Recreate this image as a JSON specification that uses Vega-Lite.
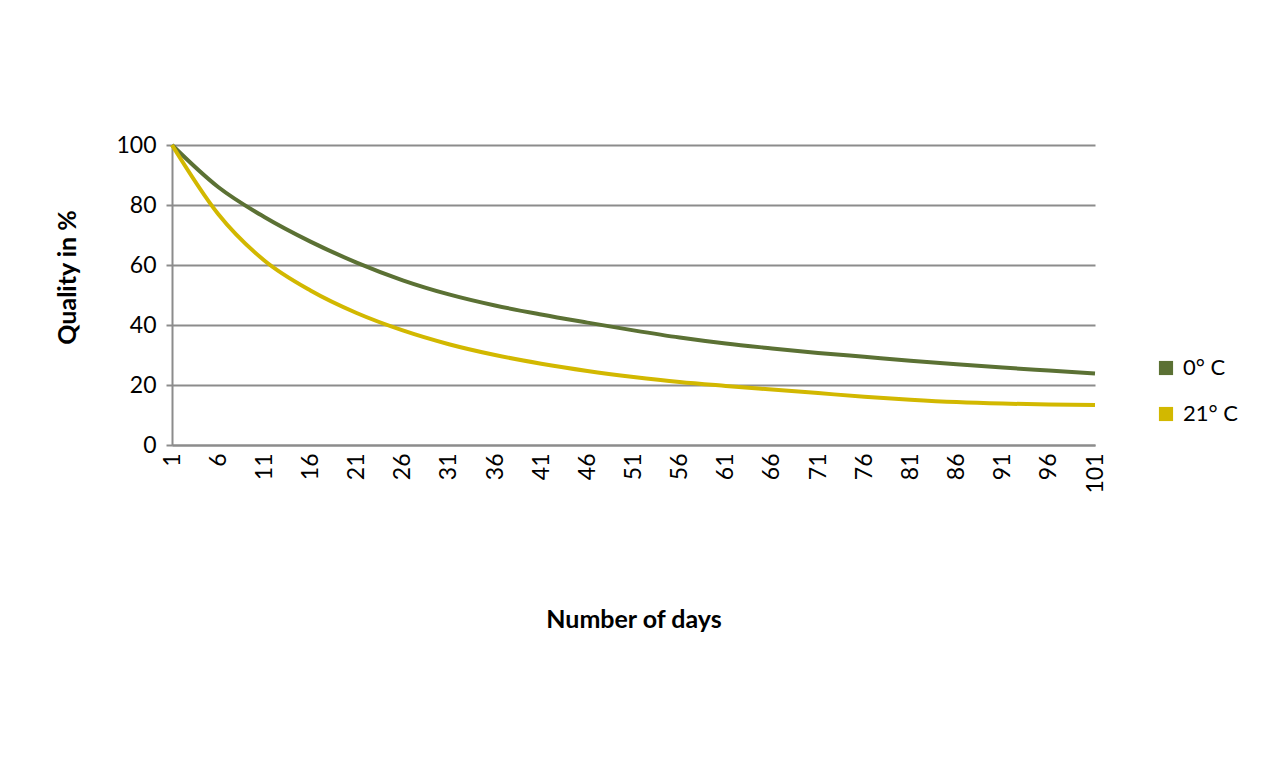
{
  "$schema": "https://vega.github.io/schema/vega-lite/v6.json",
  "autosize": {"type": "none"},
  "width": 923,
  "height": 300,
  "padding": {"left": 172, "top": 145, "right": 166, "bottom": 330},
  "background": "white",
  "data": {
    "values": [
      {"day": 1, "series": "0° C", "quality": 100},
      {"day": 6, "series": "0° C", "quality": 86},
      {"day": 11, "series": "0° C", "quality": 76},
      {"day": 16, "series": "0° C", "quality": 67.8},
      {"day": 21, "series": "0° C", "quality": 60.8},
      {"day": 26, "series": "0° C", "quality": 54.9},
      {"day": 31, "series": "0° C", "quality": 50.2},
      {"day": 36, "series": "0° C", "quality": 46.5},
      {"day": 41, "series": "0° C", "quality": 43.5},
      {"day": 46, "series": "0° C", "quality": 40.8},
      {"day": 51, "series": "0° C", "quality": 38.2},
      {"day": 56, "series": "0° C", "quality": 35.8},
      {"day": 61, "series": "0° C", "quality": 33.8},
      {"day": 66, "series": "0° C", "quality": 32.2},
      {"day": 71, "series": "0° C", "quality": 30.7},
      {"day": 76, "series": "0° C", "quality": 29.4},
      {"day": 81, "series": "0° C", "quality": 28.1},
      {"day": 86, "series": "0° C", "quality": 26.9},
      {"day": 91, "series": "0° C", "quality": 25.8},
      {"day": 96, "series": "0° C", "quality": 24.8},
      {"day": 101, "series": "0° C", "quality": 23.8},
      {"day": 1, "series": "21° C", "quality": 100},
      {"day": 6, "series": "21° C", "quality": 77},
      {"day": 11, "series": "21° C", "quality": 61.5},
      {"day": 16, "series": "21° C", "quality": 51.5},
      {"day": 21, "series": "21° C", "quality": 44},
      {"day": 26, "series": "21° C", "quality": 38.2},
      {"day": 31, "series": "21° C", "quality": 33.6},
      {"day": 36, "series": "21° C", "quality": 30},
      {"day": 41, "series": "21° C", "quality": 27.1},
      {"day": 46, "series": "21° C", "quality": 24.7},
      {"day": 51, "series": "21° C", "quality": 22.7},
      {"day": 56, "series": "21° C", "quality": 21},
      {"day": 61, "series": "21° C", "quality": 19.7},
      {"day": 66, "series": "21° C", "quality": 18.5},
      {"day": 71, "series": "21° C", "quality": 17.3},
      {"day": 76, "series": "21° C", "quality": 16.1},
      {"day": 81, "series": "21° C", "quality": 15.1},
      {"day": 86, "series": "21° C", "quality": 14.3},
      {"day": 91, "series": "21° C", "quality": 13.8},
      {"day": 96, "series": "21° C", "quality": 13.5},
      {"day": 101, "series": "21° C", "quality": 13.3}
    ]
  },
  "mark": {"type": "line", "interpolate": "monotone", "strokeWidth": 4},
  "encoding": {
    "x": {
      "field": "day",
      "type": "quantitative",
      "title": "Number of days",
      "scale": {"domain": [1, 101], "nice": false, "zero": false},
      "axis": {
        "values": [1, 6, 11, 16, 21, 26, 31, 36, 41, 46, 51, 56, 61, 66, 71, 76, 81, 86, 91, 96, 101],
        "labelAngle": 270,
        "labelFontSize": 23,
        "labelPadding": 8,
        "grid": false,
        "ticks": false,
        "titlePadding": 114
      }
    },
    "y": {
      "field": "quality",
      "type": "quantitative",
      "title": "Quality in %",
      "scale": {"domain": [0, 100], "nice": false},
      "axis": {
        "values": [0, 20, 40, 60, 80, 100],
        "labelFontSize": 23,
        "labelPadding": 10,
        "tickSize": 6,
        "titlePadding": 35,
        "titleY": 132
      }
    },
    "color": {
      "field": "series",
      "type": "nominal",
      "title": null,
      "scale": {"domain": ["0° C", "21° C"], "range": ["#5B7134", "#D2B800"]},
      "legend": {
        "orient": "none",
        "legendX": 983,
        "legendY": 212,
        "symbolType": "square",
        "symbolSize": 200,
        "labelFontSize": 22,
        "rowPadding": 24,
        "labelOffset": 6,
        "encode": {
          "symbols": {
            "update": {
              "fill": {"scale": "color", "field": "value"},
              "fillOpacity": {"value": 1},
              "strokeWidth": {"value": 0}
            }
          }
        }
      }
    }
  },
  "config": {
    "font": "Lato",
    "view": {"stroke": null},
    "axis": {
      "labelFont": "Lato",
      "labelColor": "#000000",
      "titleFont": "Lato",
      "titleFontSize": 25,
      "titleFontWeight": "bold",
      "titleColor": "#000000",
      "domainColor": "#8C8C8C",
      "domainWidth": 2,
      "gridColor": "#8C8C8C",
      "gridWidth": 2,
      "gridOpacity": 1,
      "tickColor": "#8C8C8C",
      "tickWidth": 2
    },
    "legend": {"labelFont": "Lato", "labelColor": "#000000"}
  }
}
